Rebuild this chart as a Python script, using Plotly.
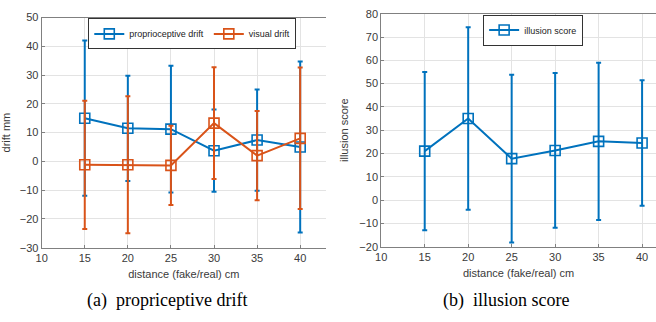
import plotly.graph_objects as go

distance = [15, 20, 25, 30, 35, 40]

prop_drift = [15.0, 11.5, 11.2, 3.7, 7.4, 5.0]
prop_err = [27.0, 18.3, 22.0, 14.3, 17.6, 29.7]

visual_drift = [-1.2, -1.2, -1.4, 13.3, 2.0, 8.0]
visual_err = [22.3, 23.8, 13.8, 19.4, 15.5, 24.6]

illusion = [21.0, 35.0, 17.8, 21.3, 25.2, 24.5]
illusion_err = [34.0, 39.2, 36.0, 33.2, 33.7, 26.9]

left_yticks = [-30, -20, -10, 0, 10, 20, 30, 40, 50]
right_yticks = [-20, -10, 0, 10, 20, 30, 40, 50, 60, 70, 80]
xticks = [10, 15, 20, 25, 30, 35, 40]

BLUE = "#0072BD"
ORANGE = "#D95319"
AXC = "#808080"
GRID = "#e3e3e3"
TXT = "#3a3a3a"
FONT = "Liberation Sans"

W, H = 656, 322

fig = go.Figure()


def add(x, y, e, color, name, xa, ya, legend):
    fig.add_trace(go.Scatter(
        x=x, y=y, name=name, mode="lines+markers",
        line=dict(color=color, width=2),
        marker=dict(symbol="square-open", size=10, color=color, line=dict(width=1.6, color=color)),
        error_y=dict(type="data", array=e, visible=True, color=color, thickness=2, width=2.5),
        xaxis=xa, yaxis=ya, legend=legend,
    ))


add(distance, prop_drift, prop_err, BLUE, "proprioceptive drift", "x", "y", "legend")
add(distance, visual_drift, visual_err, ORANGE, "visual drift", "x", "y", "legend")
add(distance, illusion, illusion_err, BLUE, "illusion score", "x2", "y2", "legend2")

axis_common = dict(
    showline=True, linecolor=AXC, linewidth=1,
    ticks="inside", ticklen=3, tickcolor=AXC,
    showgrid=True, gridcolor=GRID, gridwidth=1,
    zeroline=False,
    tickfont=dict(family=FONT, size=11, color=TXT),
)

legend_common = dict(
    xanchor="center", yanchor="middle", orientation="h",
    bgcolor="white", bordercolor="#333333", borderwidth=1,
    font=dict(family=FONT, size=9, color="#222222"),
    itemwidth=30, tracegroupgap=0,
)

fig.update_layout(
    width=W, height=H,
    margin=dict(l=0, r=0, t=0, b=0),
    paper_bgcolor="white", plot_bgcolor="white",
    showlegend=True,
    xaxis=dict(domain=[36 / W, 323 / W], range=[10, 43], tickvals=xticks, mirror=True,
               anchor="y",
               title=dict(text="distance (fake/real) cm", standoff=7,
                          font=dict(family=FONT, size=11, color=TXT)),
               **axis_common),
    yaxis=dict(domain=[1 - 251 / H, 1 - 12 / H], range=[-30, 50], tickvals=left_yticks,
               anchor="x", mirror=False,
               title=dict(text="drift mm", standoff=8,
                          font=dict(family=FONT, size=11, color=TXT)),
               **axis_common),
    xaxis2=dict(domain=[378.7 / W, 1.0], range=[10, 41.6], tickvals=xticks, mirror=True,
                anchor="y2",
                title=dict(text="distance (fake/real) cm", standoff=7,
                           font=dict(family=FONT, size=11, color=TXT)),
                **axis_common),
    yaxis2=dict(domain=[1 - 250 / H, 1 - 8 / H], range=[-20, 80], tickvals=right_yticks,
                anchor="x2", mirror=False,
                title=dict(text="illusion score", standoff=8,
                           font=dict(family=FONT, size=11, color=TXT)),
                **axis_common),
    legend=dict(x=188 / W, y=1 - 29 / H, **legend_common),
    legend2=dict(x=532 / W, y=1 - 25 / H, **legend_common),
    annotations=[
        dict(text="(a)  propriceptive drift", x=162 / W, y=1 - 306 / H, xref="paper", yref="paper",
             showarrow=False, xanchor="center", yanchor="middle",
             font=dict(family="Liberation Serif", size=18, color="black")),
        dict(text="(b)  illusion score", x=505 / W, y=1 - 306 / H, xref="paper", yref="paper",
             showarrow=False, xanchor="center", yanchor="middle",
             font=dict(family="Liberation Serif", size=18, color="black")),
    ],
)

fig.write_html("out.html")
